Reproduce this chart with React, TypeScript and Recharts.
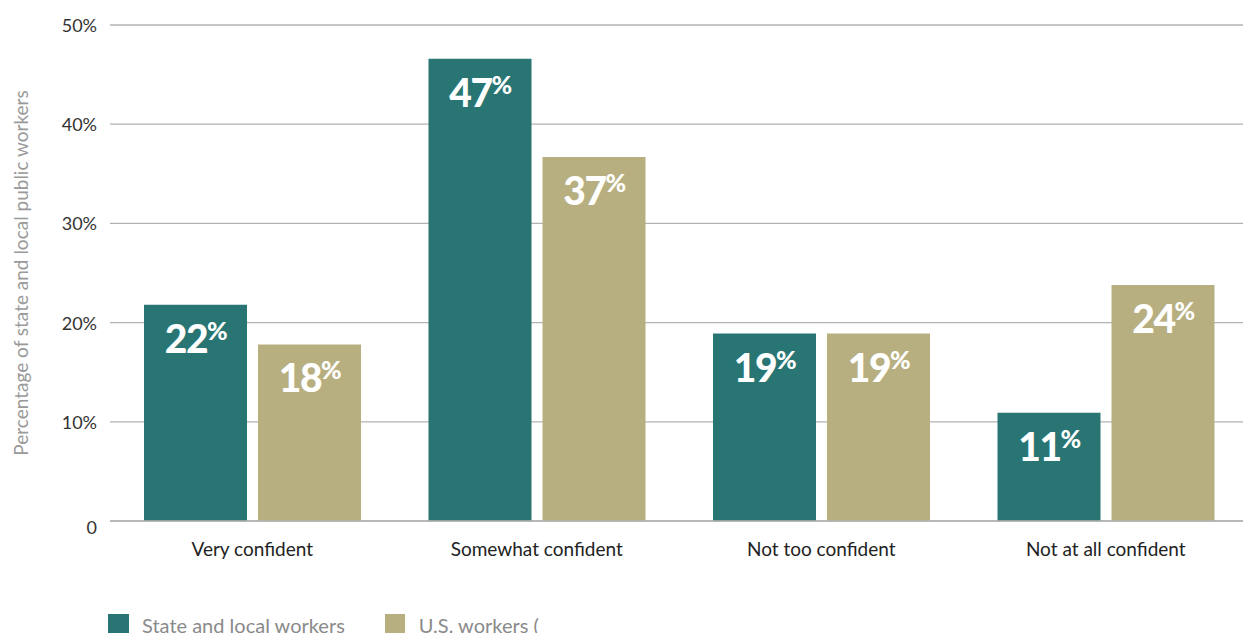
import { Bar, BarChart, CartesianGrid, LabelList, XAxis, YAxis } from "recharts";

const categories = ["Very confident", "Somewhat confident", "Not too confident", "Not at all confident"];
const stateLocal = [21.8, 46.6, 18.9, 10.9];
const usWorkers = [17.8, 36.7, 18.9, 23.8];
const stateLabels = ["22", "47", "19", "11"];
const usLabels = ["18", "37", "19", "24"];
const yTicks = [0, 10, 20, 30, 40, 50];

const TEAL = "#287574";
const TAN = "#b8af81";
const FONT = "Lato, 'Open Sans', sans-serif";

const data = categories.map((name, i) => ({
  name,
  state: stateLocal[i],
  us: usWorkers[i],
  stateLabel: stateLabels[i],
  usLabel: usLabels[i],
}));

function makeBarLabel(labels: string[]) {
  return (props: any) => {
    const { x, y, width, index } = props;
    return (
      <text
        x={x + width / 2}
        y={y + 48}
        textAnchor="middle"
        fill="#fff"
        fontFamily={FONT}
        fontWeight={900}
        letterSpacing={-1.5}
      >
        <tspan fontSize={39}>{labels[index]}</tspan>
        <tspan fontSize={25} dy={-13}>%</tspan>
      </text>
    );
  };
}

function YTick(props: any) {
  const { x, y, payload } = props;
  const v = payload.value;
  return (
    <text
      x={x}
      y={v === 0 ? y + 6 : y}
      textAnchor="end"
      dominantBaseline="central"
      fill="#333"
      fontSize={18}
      fontFamily={FONT}
    >
      {v === 0 ? "0" : `${v}%`}
    </text>
  );
}

function YLabel(props: any) {
  const { viewBox } = props;
  const cx = viewBox.x + 20;
  const cy = viewBox.y + viewBox.height / 2;
  return (
    <text
      x={cx}
      y={cy}
      transform={`rotate(-90, ${cx}, ${cy})`}
      textAnchor="middle"
      dominantBaseline="central"
      fill="#9a9a9a"
      fontSize={19}
      fontFamily={FONT}
    >
      Percentage of state and local public workers
    </text>
  );
}

export default function App() {
  return (
    <div style={{ position: "absolute", left: 0, top: 0, width: 1243, height: 633, overflow: "hidden", background: "#fff" }}>
      <BarChart
        width={1260}
        height={580}
        data={data}
        margin={{ top: 25, right: 12, bottom: 19, left: 0 }}
        barCategoryGap={34}
        barGap={11}
      >
        <CartesianGrid vertical={false} stroke="#b3b3b3" strokeWidth={1.3} />
        <XAxis
          dataKey="name"
          axisLine={{ stroke: "#b3b3b3", strokeWidth: 1.3 }}
          tickLine={false}
          tickSize={0}
          tickMargin={22}
          height={40}
          tick={{ fill: "#222", fontSize: 19, fontFamily: FONT }}
        />
        <YAxis
          width={110}
          domain={[0, 50]}
          ticks={yTicks}
          axisLine={false}
          tickLine={false}
          tickSize={0}
          tickMargin={13}
          tick={<YTick />}
          label={{ content: <YLabel /> }}
        />
        <Bar dataKey="state" fill={TEAL} isAnimationActive={false}>
          <LabelList dataKey="stateLabel" content={makeBarLabel(stateLabels)} />
        </Bar>
        <Bar dataKey="us" fill={TAN} isAnimationActive={false}>
          <LabelList dataKey="usLabel" content={makeBarLabel(usLabels)} />
        </Bar>
      </BarChart>
      <div
        style={{
          position: "absolute",
          left: 108,
          top: 613,
          width: 432,
          height: 30,
          overflow: "hidden",
          display: "flex",
          alignItems: "flex-start",
          fontFamily: FONT,
          fontSize: 20,
          color: "#8a8a8a",
          whiteSpace: "nowrap",
        }}
      >
        <span style={{ display: "inline-block", width: 21, height: 21, background: TEAL, marginTop: 1 }} />
        <span style={{ marginLeft: 13, lineHeight: "24px" }}>State and local workers</span>
        <span style={{ display: "inline-block", width: 20, height: 21, background: TAN, marginLeft: 40, marginTop: 1 }} />
        <span style={{ marginLeft: 14, lineHeight: "24px" }}>U.S. workers (</span>
      </div>
    </div>
  );
}
